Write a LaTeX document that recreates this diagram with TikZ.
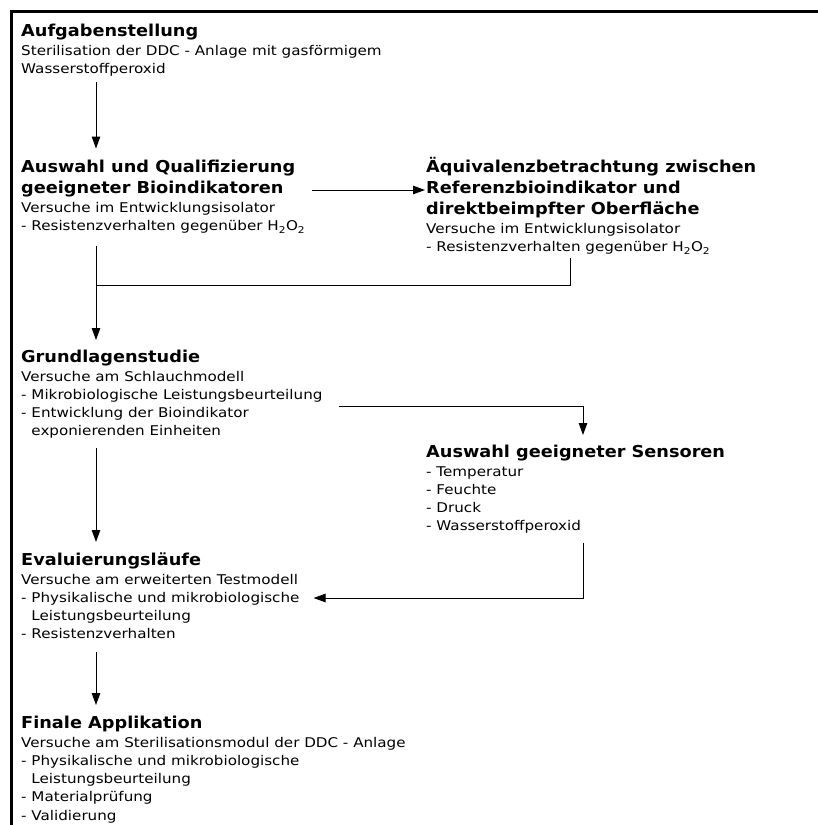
\documentclass[tikz,border=0pt]{standalone}
\usepackage{fontspec}
\setmainfont{DejaVu Sans}[FakeStretch=1.13]
\newfontfamily\headfam{DejaVu Sans}[FakeStretch=1.08]
\usetikzlibrary{arrows.meta,calc}
\newcommand\hd{\headfam\fontsize{16.4}{21}\selectfont\bfseries}
\newcommand\st{\rule{0pt}{16pt}}
\newcommand\ind{\hphantom{-\ }}
\begin{document}
\begin{tikzpicture}[x=1pt,y=-1pt,
  blk/.style={anchor=north west,inner sep=0pt,align=left,font=\fontsize{13.4}{18.2}\selectfont},
  conn/.style={line width=1pt},
  arr/.style={conn,-{Triangle[length=12pt,width=8.5pt]}}]
\useasboundingbox (0,0) rectangle (818,825);
\draw[line width=2.7pt] (11.5,830) -- (11.5,11.5) -- (822,11.5);
\coordinate (spine) at (96,0);

\node[blk] (b1) at (21,20) {{\hd\st Aufgabenstellung}\\[0.8pt]
  Sterilisation der DDC - Anlage mit gasförmigem\\
  Wasserstoffperoxid};

\node[blk] (b2) at (21,156.5) {{\hd\st Auswahl und Qualifizierung}\\[2.8pt]
  {\hd geeigneter Bioindikatoren}\\[0.8pt]
  Versuche im Entwicklungsisolator\\
  - Resistenzverhalten gegenüber H\textsubscript{2}O\textsubscript{2}};

\node[blk] (b3) at (426,156.5) {{\hd\st Äquivalenzbetrachtung zwischen}\\[2.8pt]
  {\hd Referenzbioindikator und}\\[2.8pt]
  {\hd direktbeimpfter Oberfläche}\\[0.8pt]
  Versuche im Entwicklungsisolator\\
  - Resistenzverhalten gegenüber H\textsubscript{2}O\textsubscript{2}};

\node[blk] (b4) at (21,346) {{\hd\st Grundlagenstudie}\\[0.8pt]
  Versuche am Schlauchmodell\\
  - Mikrobiologische Leistungsbeurteilung\\
  - Entwicklung der Bioindikator\\
  \ind exponierenden Einheiten};

\node[blk] (b5) at (426,441) {{\hd\st Auswahl geeigneter Sensoren}\\[0.8pt]
  - Temperatur\\
  - Feuchte\\
  - Druck\\
  - Wasserstoffperoxid};

\node[blk] (b6) at (21,549) {{\hd\st Evaluierungsläufe}\\[0.8pt]
  Versuche am erweiterten Testmodell\\
  - Physikalische und mikrobiologische\\
  \ind Leistungsbeurteilung\\
  - Resistenzverhalten};

\node[blk] (b7) at (21,712) {{\hd\st Finale Applikation}\\[0.8pt]
  Versuche am Sterilisationsmodul der DDC - Anlage\\
  - Physikalische und mikrobiologische\\
  \ind Leistungsbeurteilung\\
  - Materialprüfung\\
  - Validierung};

% connectors
\draw[arr] ($(b1.north -| spine)+(0,62)$) -- ($(b2.north -| spine)+(0,-8)$);
\draw[arr] ($(b2.north east)+(7,33.5)$) -- ($(b3.north west)+(-1,33.5)$);
\draw[arr] ($(b2.north -| spine)+(0,89)$) -- ($(b4.north -| spine)+(0,-6)$);
\draw[conn] ($(b3.north west)+(144,101)$) |- ($(b2.north -| spine)+(0,129)$);
\draw[arr] ($(b4.north east)+(16,60)$) -| ($(b5.north west)+(157,-6)$);
\draw[arr] ($(b4.north -| spine)+(0,102)$) -- ($(b6.north -| spine)+(0,-7)$);
\draw[arr] ($(b5.north west)+(157,102)$) |- ($(b6.north east)+(14,49)$);
\draw[arr] ($(b6.north -| spine)+(0,103)$) -- ($(b7.north -| spine)+(0,-7)$);
\end{tikzpicture}
\end{document}
